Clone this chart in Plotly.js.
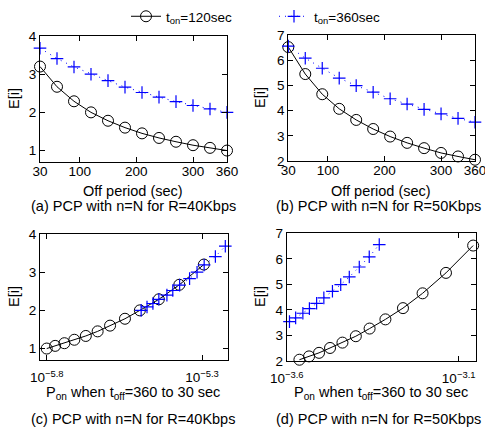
<!DOCTYPE html>
<html>
<head>
<meta charset="utf-8">
<script src="https://cdn.plot.ly/plotly-3.0.1.min.js"></script>
<style>html,body{margin:0;padding:0;background:#fff;}#chart{width:485px;height:431px;}</style>
</head>
<body>
<div id="chart"></div>
<script>
// ---- data ----
const offPeriod = [30, 60, 90, 120, 150, 180, 210, 240, 270, 300, 330, 360];
const eA120 = [3.2, 2.67, 2.29, 2.0, 1.78, 1.6, 1.45, 1.33, 1.23, 1.14, 1.07, 1.0];
const eA360 = [3.68, 3.41, 3.19, 3.0, 2.83, 2.66, 2.52, 2.40, 2.28, 2.18, 2.09, 2.0];
const eB120 = [6.52, 5.45, 4.65, 4.07, 3.63, 3.27, 2.97, 2.72, 2.51, 2.32, 2.18, 2.05];
const eB360 = [6.56, 6.08, 5.68, 5.29, 4.99, 4.73, 4.47, 4.26, 4.05, 3.87, 3.69, 3.54];

const pOnC120 = [1.585e-6, 1.687e-6, 1.807e-6, 1.945e-6, 2.118e-6, 2.312e-6, 2.535e-6, 2.831e-6, 3.162e-6, 3.639e-6, 4.236e-6, 5.082e-6];
const eC120 = [1.0, 1.07, 1.14, 1.23, 1.33, 1.45, 1.6, 1.78, 2.0, 2.29, 2.67, 3.2];
const pOnC360 = [3.192e-6, 3.334e-6, 3.483e-6, 3.639e-6, 3.864e-6, 4.036e-6, 4.246e-6, 4.571e-6, 4.831e-6, 5.093e-6, 5.534e-6, 5.957e-6];
const eC360 = [2.0, 2.09, 2.18, 2.29, 2.40, 2.52, 2.66, 2.83, 3.0, 3.19, 3.41, 3.68];

const pOnD120 = [2.735e-4, 2.917e-4, 3.119e-4, 3.357e-4, 3.648e-4, 3.990e-4, 4.375e-4, 4.864e-4, 5.470e-4, 6.237e-4, 7.295e-4, 8.750e-4];
const eD120 = [2.05, 2.18, 2.32, 2.51, 2.72, 2.97, 3.27, 3.63, 4.07, 4.65, 5.45, 6.52];
const pOnD360 = [2.559e-4, 2.667e-4, 2.799e-4, 2.924e-4, 3.069e-4, 3.221e-4, 3.412e-4, 3.606e-4, 3.819e-4, 4.083e-4, 4.365e-4, 4.667e-4];
const eD360 = [3.54, 3.69, 3.87, 4.05, 4.26, 4.47, 4.73, 4.99, 5.29, 5.68, 6.08, 6.56];

const xTicksLin = [30, 100, 200, 300, 360];
const cTickVals = [1.585e-6, 5.012e-6];
const cTickText = ['10<sup>−5.8</sup>', '10<sup>−5.3</sup>'];
const dTickVals = [2.512e-4, 7.943e-4];
const dTickText = ['10<sup>−3.6</sup>', '10<sup>−3.1</sup>'];
const series120Name = 't<sub>on</sub>=120sec';
const series360Name = 't<sub>on</sub>=360sec';
const captions = ['(a) PCP with n=N for R=40Kbps', '(b) PCP with n=N for R=50Kbps',
                  '(c) PCP with n=N for R=40Kbps', '(d) PCP with n=N for R=50Kbps'];
const xTitleTop = 'Off period (sec)';
const xTitleBottom = 'P<sub>on</sub> when t<sub>off</sub>=360 to 30 sec';
const yTitle = 'E[i]';

// ---- styling ----
const W = 485, H = 431;
const FONT = 'Liberation Sans, Arial, Helvetica, sans-serif';
const px = v => v / W;
const py = v => 1 - v / H;

function line120(xa, ya, x, y, show) {
  return {x: x, y: y, xaxis: xa, yaxis: ya, type: 'scatter', mode: 'lines+markers',
    name: series120Name, showlegend: show, cliponaxis: false,
    line: {color: 'black', width: 1},
    marker: {symbol: 'circle-open', size: 11, color: 'black', line: {width: 1, color: 'black'}}};
}
function line360(xa, ya, x, y, show) {
  return {x: x, y: y, xaxis: xa, yaxis: ya, type: 'scatter', mode: 'lines+markers',
    name: series360Name, showlegend: show, cliponaxis: false,
    line: {color: 'rgb(0,0,255)', width: 1, dash: '1px,5px'},
    marker: {symbol: 'cross-thin-open', size: 9, color: 'rgb(0,0,255)', line: {width: 1.2, color: 'rgb(0,0,255)'}}};
}

const traces = [
  line120('x', 'y', offPeriod, eA120, true),
  line360('x', 'y', offPeriod, eA360, true),
  line120('x2', 'y2', offPeriod, eB120, false),
  line360('x2', 'y2', offPeriod, eB360, false),
  line120('x3', 'y3', pOnC120, eC120, false),
  line360('x3', 'y3', pOnC360, eC360, false),
  line120('x4', 'y4', pOnD120, eD120, false),
  line360('x4', 'y4', pOnD360, eD360, false)
];

const axBase = {showline: true, linecolor: 'black', linewidth: 1, mirror: 'ticks',
  ticks: 'inside', ticklen: 5, tickcolor: 'black', tickwidth: 1,
  showgrid: false, zeroline: false, fixedrange: true, ticklabeloverflow: 'allow',
  tickfont: {family: FONT, size: 13.5, color: 'black'}};

function ax(extra) { return Object.assign({}, axBase, extra); }

const boxes = {
  a: [40, 227, 36, 162],
  b: [288.3, 475, 35, 161],
  c: [40, 228, 234, 360],
  d: [286.7, 476, 233.3, 361]
};
function xd(b) { return [px(b[0]), px(b[1])]; }
function yd(b) { return [py(b[3]), py(b[2])]; }

const annFont = {family: FONT, size: 14.5, color: 'black'};
function ann(text, x, y, extra) {
  return Object.assign({text: text, x: px(x), y: py(y), xref: 'paper', yref: 'paper',
    showarrow: false, xanchor: 'center', yanchor: 'middle', font: annFont}, extra || {});
}

const layout = {
  width: W, height: H,
  margin: {l: 0, r: 0, t: 0, b: 0, pad: 0},
  paper_bgcolor: 'white', plot_bgcolor: 'white',
  font: {family: FONT, color: 'black'},
  showlegend: true,
  legend: {orientation: 'h', x: px(126), xanchor: 'left', y: py(1), yanchor: 'top',
    font: {family: FONT, size: 13.5, color: 'black'}, bgcolor: 'rgba(0,0,0,0)',
    itemwidth: 30, tracegroupgap: 0, entrywidth: 103, entrywidthmode: 'pixels'},
  xaxis: ax({domain: xd(boxes.a), anchor: 'y', range: [30, 360], tickvals: xTicksLin, ticklabelstandoff: -3}),
  yaxis: ax({domain: yd(boxes.a), anchor: 'x', range: [0.7, 4], tickvals: [1, 2, 3, 4]}),
  xaxis2: ax({domain: xd(boxes.b), anchor: 'y2', range: [30, 360], tickvals: xTicksLin, ticklabelstandoff: -3}),
  yaxis2: ax({domain: yd(boxes.b), anchor: 'x2', range: [2, 7], tickvals: [2, 3, 4, 5, 6, 7]}),
  xaxis3: ax({domain: xd(boxes.c), anchor: 'y3', type: 'log', range: [-5.8216, -5.2163],
    tickvals: cTickVals, ticktext: cTickText, ticklabelstandoff: 5}),
  yaxis3: ax({domain: yd(boxes.c), anchor: 'x3', range: [0.7, 4], tickvals: [1, 2, 3, 4]}),
  xaxis4: ax({domain: xd(boxes.d), anchor: 'y4', type: 'log', range: [-3.6, -3.0497],
    tickvals: dTickVals, ticktext: dTickText, ticklabelstandoff: 5}),
  yaxis4: ax({domain: yd(boxes.d), anchor: 'x4', range: [2, 7], tickvals: [2, 3, 4, 5, 6, 7]}),
  annotations: [
    ann(xTitleTop, 133, 191),
    ann(captions[0], 133, 206),
    ann(xTitleTop, 381, 191),
    ann(captions[1], 378, 206),
    ann(xTitleBottom, 133, 393),
    ann(captions[2], 133, 419),
    ann(xTitleBottom, 381, 393),
    ann(captions[3], 378, 419),
    ann(yTitle, 14, 99, {textangle: -90}),
    ann(yTitle, 260, 98, {textangle: -90}),
    ann(yTitle, 14, 297, {textangle: -90}),
    ann(yTitle, 260, 297, {textangle: -90})
  ]
};

Plotly.newPlot('chart', traces, layout, {staticPlot: true, displayModeBar: false});
</script>
</body>
</html>
